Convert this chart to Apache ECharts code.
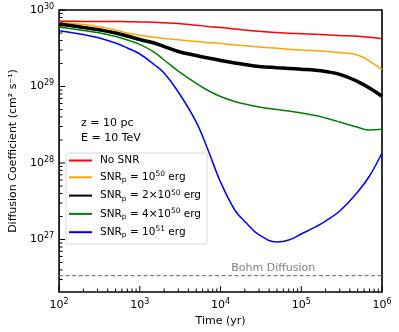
<!DOCTYPE html>
<html>
<head>
<meta charset="utf-8">
<script src="https://cdn.jsdelivr.net/npm/echarts@6/dist/echarts.min.js"></script>
<style>
html, body { margin: 0; padding: 0; background: #fff; }
#main { width: 399px; height: 332px; }
</style>
</head>
<body>
<div id="main"></div>
<script>
const myChart = echarts.init(document.getElementById('main'));
const FONT = 'DejaVu Sans';

// time grid (yr)
const times = [100, 200, 300, 500, 700, 1000, 1500, 2000, 3000, 5000, 7000, 1e4, 1.5e4, 2e4, 3e4, 5e4, 7e4, 1e5, 1.5e5, 2e5, 3e5, 5e5, 7e5, 1e6];
// diffusion coefficient (cm^2 s^-1)
const noSnr   = [7.12e29, 7.10e29, 7.10e29, 7.08e29, 7.04e29, 6.97e29, 6.91e29, 6.82e29, 6.66e29, 6.31e29, 6.10e29, 5.91e29, 5.64e29, 5.48e29, 5.27e29, 5.08e29, 4.97e29, 4.90e29, 4.81e29, 4.74e29, 4.64e29, 4.53e29, 4.40e29, 4.21e29];
const snr1e50 = [6.87e29, 6.46e29, 6.09e29, 5.48e29, 5.00e29, 4.67e29, 4.40e29, 4.24e29, 4.08e29, 3.87e29, 3.76e29, 3.65e29, 3.49e29, 3.42e29, 3.28e29, 3.16e29, 3.07e29, 3.00e29, 2.94e29, 2.88e29, 2.78e29, 2.58e29, 2.15e29, 1.66e29];
const snr2e50 = [6.56e29, 5.91e29, 5.56e29, 5.00e29, 4.57e29, 4.12e29, 3.70e29, 3.33e29, 2.87e29, 2.54e29, 2.36e29, 2.19e29, 2.03e29, 1.94e29, 1.83e29, 1.76e29, 1.72e29, 1.68e29, 1.63e29, 1.57e29, 1.44e29, 1.16e29, 9.56e28, 7.45e28];
const snr4e50 = [6.00e29, 5.40e29, 5.08e29, 4.50e29, 4.05e29, 3.56e29, 2.82e29, 2.22e29, 1.59e29, 1.10e29, 8.86e28, 7.40e28, 6.37e28, 5.91e28, 5.40e28, 5.00e28, 4.78e28, 4.50e28, 4.18e28, 3.87e28, 3.43e28, 2.93e28, 2.70e28, 2.76e28];
const snr1e51 = [5.36e29, 4.78e29, 4.37e29, 3.70e29, 3.19e29, 2.66e29, 1.94e29, 1.50e29, 8.48e28, 3.43e28, 1.48e28, 5.64e27, 2.43e27, 1.72e27, 1.15e27, 9.28e26, 9.85e26, 1.18e27, 1.46e27, 1.74e27, 2.36e27, 4.18e27, 6.76e27, 1.35e28];
const bohm = 3.37e26;

const xRange = [1e2, 1e6];
const yRange = [2.06e26, 1e30];

const seriesNames = ['No SNR', 'SNR1e50', 'SNR2e50', 'SNR4e50', 'SNR1e51'];
const legendText = {
    'No SNR': '{t|No SNR}',
    'SNR1e50': '{t|SNR}{sub|p}{t| = 10}{sup|50}{t| erg}',
    'SNR2e50': '{t|SNR}{sub|p}{t| = 2×10}{sup|50}{t| erg}',
    'SNR4e50': '{t|SNR}{sub|p}{t| = 4×10}{sup|50}{t| erg}',
    'SNR1e51': '{t|SNR}{sub|p}{t| = 10}{sup|51}{t| erg}'
};

const pairs = arr => times.map((t, i) => [t, arr[i]]);

function powLabel(v) {
    const e = Math.log10(v);
    if (Math.abs(e - Math.round(e)) > 1e-6) return '';
    return '{b|10}{s|' + Math.round(e) + '}';
}
const labelRich = {
    b: { fontSize: 11, fontFamily: FONT, color: '#000', lineHeight: 15 },
    s: { fontSize: 8, fontFamily: FONT, color: '#000', verticalAlign: 'top', lineHeight: 9 }
};

function lineSeries(name, data, color, width) {
    return {
        name: name,
        type: 'line',
        data: pairs(data),
        smooth: 0.4,
        symbol: 'none',
        showSymbol: false,
        lineStyle: { color: color, width: width },
        itemStyle: { color: color },
        silent: true
    };
}

let option = {
    animation: false,
    grid: {
        left: 57, right: 17, top: 10, bottom: 40,
        show: true, borderColor: '#000', borderWidth: 1.6, backgroundColor: 'transparent'
    },
    legend: {
        data: seriesNames,
        orient: 'vertical',
        left: 66, top: 153,
        padding: [2, 6, 5, 2],
        itemWidth: 23, itemHeight: 10, itemGap: 4.3,
        selectedMode: false,
        backgroundColor: '#fff',
        borderColor: '#d9d9d9', borderWidth: 1, borderRadius: 2,
        itemStyle: { opacity: 0 },
        formatter: name => legendText[name],
        textStyle: {
            padding: [0, 0, 0, 3],
            rich: {
                t: { fontSize: 10.5, fontFamily: FONT, color: '#000', lineHeight: 14 },
                sub: { fontSize: 7.5, fontFamily: FONT, color: '#000', verticalAlign: 'bottom', lineHeight: 11 },
                sup: { fontSize: 7.5, fontFamily: FONT, color: '#000', verticalAlign: 'top', lineHeight: 9 }
            }
        }
    },
    xAxis: {
        type: 'log', logBase: 10,
        min: xRange[0], max: xRange[1],
        name: 'Time (yr)', nameLocation: 'middle', nameGap: 19,
        nameTextStyle: { fontSize: 11, fontFamily: FONT, color: '#000' },
        axisLine: { show: false },
        axisTick: { show: false },
        splitLine: { show: false },
        axisLabel: { margin: 6, formatter: powLabel, rich: labelRich, showMinLabel: true, showMaxLabel: true }
    },
    yAxis: {
        type: 'log', logBase: 10,
        min: yRange[0], max: yRange[1],
        name: 'Diffusion Coefficient (cm² s⁻¹)', nameLocation: 'middle', nameGap: 40,
        nameTextStyle: { fontSize: 11, fontFamily: FONT, color: '#000' },
        axisLine: { show: false },
        axisTick: { show: false },
        splitLine: { show: false },
        axisLabel: { margin: 5, formatter: powLabel, rich: labelRich, showMinLabel: true, showMaxLabel: true }
    },
    series: [
        lineSeries('No SNR', noSnr, '#ff0000', 1.5),
        lineSeries('SNR1e50', snr1e50, '#ffa500', 1.5),
        lineSeries('SNR2e50', snr2e50, '#000000', 3.5),
        lineSeries('SNR4e50', snr4e50, '#008000', 1.5),
        lineSeries('SNR1e51', snr1e51, '#0000ff', 1.5),
        {
            name: 'Bohm',
            type: 'line',
            data: [[xRange[0], bohm], [xRange[1], bohm]],
            symbol: 'none',
            silent: true,
            lineStyle: { color: '#808080', width: 1.2, type: [4, 2.5] },
            z: 1
        }
    ]
};

myChart.setOption(option);

// ticks (inward, major + minor) and annotations, placed through the axes
function extraGraphics() {
    const g = [];
    const bottom = myChart.convertToPixel({ yAxisIndex: 0 }, yRange[0]);
    const left = myChart.convertToPixel({ xAxisIndex: 0 }, xRange[0]);
    const tickStyle = { stroke: '#000', lineWidth: 1 };
    for (let n = 2; n <= 6; n++) {
        for (let k = 1; k <= 9; k++) {
            const t = k * Math.pow(10, n);
            if (t < xRange[0] || t > xRange[1]) continue;
            const px = myChart.convertToPixel({ xAxisIndex: 0 }, t);
            const len = k === 1 ? 6 : 3.5;
            g.push({ type: 'line', silent: true, shape: { x1: px, y1: bottom, x2: px, y2: bottom - len }, style: tickStyle });
        }
    }
    for (let n = 26; n <= 30; n++) {
        for (let k = 1; k <= 9; k++) {
            const v = k * Math.pow(10, n);
            if (v < yRange[0] || v > yRange[1]) continue;
            const py = myChart.convertToPixel({ yAxisIndex: 0 }, v);
            const len = k === 1 ? 6 : 3.5;
            g.push({ type: 'line', silent: true, shape: { x1: left, y1: py, x2: left + len, y2: py }, style: tickStyle });
        }
    }
    const bp = myChart.convertToPixel({ gridIndex: 0 }, [4.5e4, bohm]);
    g.push({
        type: 'text', silent: true, x: bp[0], y: bp[1] - 2,
        style: { text: 'Bohm Diffusion', fill: '#808080', font: '11px "DejaVu Sans"', textAlign: 'center', textVerticalAlign: 'bottom' }
    });
    g.push({
        type: 'text', silent: true, x: 81, y: 123,
        style: { text: 'z = 10 pc', fill: '#000', font: '11px "DejaVu Sans"', textAlign: 'left', textVerticalAlign: 'middle' }
    });
    g.push({
        type: 'text', silent: true, x: 81, y: 138,
        style: { text: 'E = 10 TeV', fill: '#000', font: '11px "DejaVu Sans"', textAlign: 'left', textVerticalAlign: 'middle' }
    });
    return g;
}

myChart.setOption({ graphic: extraGraphics() });
</script>
</body>
</html>
